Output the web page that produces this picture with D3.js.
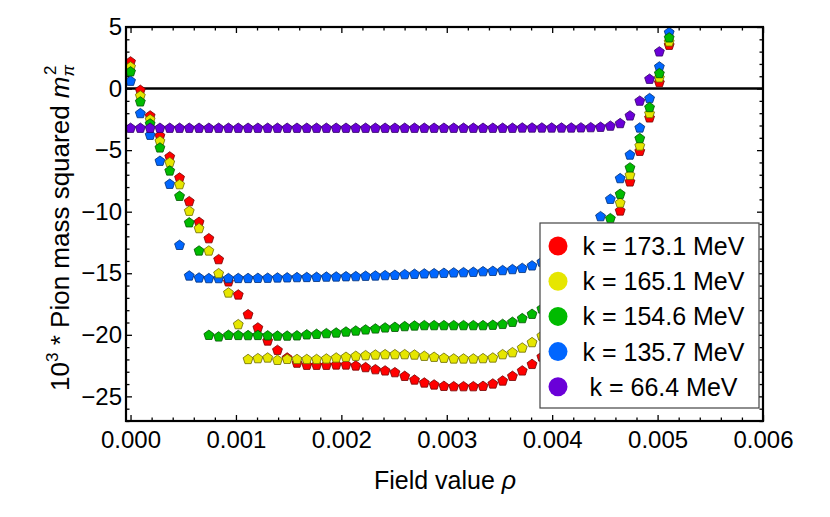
<!DOCTYPE html>
<html>
<head>
<meta charset="utf-8">
<style>
  body { margin: 0; background: #fff; }
  svg { display: block; font-family: "Liberation Sans", Arial, sans-serif; }
</style>
</head>
<body>
<svg width="830" height="517"></svg>
<script src="https://d3js.org/d3.v7.min.js"></script>
<script>

// field values rho (grid shared by all series)
var rho = [0, 0.000093, 0.000186, 0.000279, 0.000372, 0.000465, 0.000557, 0.00065, 0.000743, 0.000836,
  0.000929, 0.001022, 0.001115, 0.001208, 0.001301, 0.001394, 0.001486, 0.001579, 0.001672, 0.001765,
  0.001858, 0.001951, 0.002044, 0.002137, 0.00223, 0.002323, 0.002415, 0.002508, 0.002601, 0.002694,
  0.002787, 0.00288, 0.002973, 0.003066, 0.003159, 0.003252, 0.003344, 0.003437, 0.00353, 0.003623,
  0.003716, 0.003809, 0.003902, 0.003995, 0.004088, 0.004181, 0.004273, 0.004366, 0.004459, 0.004552,
  0.004645, 0.004738, 0.004831, 0.004924, 0.005017, 0.00511];

var k173 = [2.17, -0.14, -2.22, -3.85, -5.55, -7.26, -9.18, -10.86, -12.19, -13.89,
  -15.7, -16.76, -18.36, -19.44, -20.5, -21.26, -21.88, -22.3, -22.47, -22.47,
  -22.47, -22.45, -22.45, -22.53, -22.66, -22.83, -22.93, -23.07, -23.37, -23.67,
  -23.91, -24.07, -24.18, -24.21, -24.21, -24.21, -24.18, -23.99, -23.75, -23.37,
  -22.93, -22.4, -21.8, -21.0, -20.0, -18.8, -17.4, -15.8, -14.0, -12.0,
  -9.94, -7.58, -5.09, -2.38, 0.49, 3.52];

var k165 = [1.76, -0.6, -2.52, -4.28, -6.01, -7.8, -9.96, -11.37, -13.19, -15.03,
  -16.6, -19.17, -22.0, -21.93, -21.88, -22.07, -21.99, -22.0, -22.0, -22.0,
  -21.96, -21.88, -21.82, -21.74, -21.69, -21.64, -21.61, -21.61, -21.61, -21.64,
  -21.74, -21.82, -21.9, -21.96, -21.96, -21.96, -21.93, -21.88, -21.61, -21.45,
  -21.07, -20.63, -20.1, -19.4, -18.5, -17.4, -16.2, -14.8, -13.2, -11.4,
  -9.3, -7.04, -4.66, -2.03, 0.87, 3.79];

var k154 = [1.36, -1.08, -2.87, -4.82, -6.69, -8.75, -10.9, -13.19, -20.04, -20.17,
  -20.04, -20.05, -20.06, -20.05, -20.08, -20.1, -20.1, -20.08, -20.0, -19.96,
  -19.9, -19.85, -19.77, -19.69, -19.6, -19.52, -19.44, -19.39, -19.33, -19.28,
  -19.25, -19.25, -19.25, -19.25, -19.25, -19.25, -19.25, -19.22, -19.15, -18.98,
  -18.68, -18.33, -17.9, -17.3, -16.6, -15.7, -14.7, -13.5, -12.1, -10.56,
  -8.58, -6.44, -4.06, -1.54, 1.22, 4.12];

var k135 = [0.6, -2.03, -3.79, -5.9, -7.77, -12.73, -15.22, -15.38, -15.43, -15.43,
  -15.43, -15.42, -15.42, -15.41, -15.4, -15.38, -15.37, -15.35, -15.34, -15.33,
  -15.31, -15.3, -15.28, -15.27, -15.24, -15.22, -15.19, -15.16, -15.11, -15.08,
  -15.05, -15.03, -15.0, -14.97, -14.95, -14.92, -14.87, -14.84, -14.78, -14.7,
  -14.6, -14.4, -14.1, -13.7, -13.2, -12.6, -12.0, -11.4, -10.4, -8.99,
  -7.31, -5.4, -3.2, -0.81, 1.76, 4.55];

var k66 = [-3.22, -3.22, -3.22, -3.22, -3.22, -3.22, -3.22, -3.22, -3.22, -3.22,
  -3.22, -3.22, -3.22, -3.22, -3.22, -3.22, -3.22, -3.22, -3.22, -3.22,
  -3.22, -3.22, -3.22, -3.22, -3.22, -3.22, -3.22, -3.22, -3.22, -3.22,
  -3.22, -3.22, -3.22, -3.22, -3.22, -3.22, -3.22, -3.22, -3.22, -3.22,
  -3.2, -3.2, -3.2, -3.2, -3.2, -3.2, -3.19, -3.17, -3.14, -3.05,
  -2.84, -2.22, -1.02, 0.76, 2.98, 6.1];

var labels = ["k = 173.1 MeV", "k = 165.1 MeV", "k = 154.6 MeV", "k = 135.7 MeV", "k = 66.4 MeV"];
var colors = ["#ff0000", "#e6e600", "#00bb00", "#0066ff", "#6a00d8"];
var series = [k173, k165, k154, k135, k66];
// drawing order seen in the picture (later ones on top)
var drawOrder = [0, 3, 1, 2, 4];

var xTicks = [0, 0.001, 0.002, 0.003, 0.004, 0.005, 0.006];
var yTicks = [-25, -20, -15, -10, -5, 0, 5];

var svg = d3.select("svg"),
    margin = {top: 27, right: 67, bottom: 96, left: 126},
    width = +svg.attr("width") - margin.left - margin.right,
    height = +svg.attr("height") - margin.top - margin.bottom,
    g = svg.append("g").attr("transform", "translate(" + margin.left + "," + margin.top + ")");

var x = d3.scaleLinear().domain([-0.000043, 0.006]).range([0, width]);
var y = d3.scaleLinear().domain([-27, 5]).range([height, 0]);

var xMinor = d3.range(0, 0.00601, 0.0002).filter(function(v) { return Math.abs(v / 0.001 - Math.round(v / 0.001)) > 1e-6; });
var yMinor = d3.range(-27, 5.01, 1).filter(function(v) { return v % 5 !== 0; });

function tickAxis(axis, values, size, fmt) {
  return axis.tickValues(values).tickSizeInner(size).tickSizeOuter(0).tickFormat(fmt);
}

// bottom
g.append("g").attr("transform", "translate(0," + height + ")")
    .call(tickAxis(d3.axisBottom(x), xMinor, -3.5, ""));
g.append("g").attr("class", "lab").attr("transform", "translate(0," + height + ")")
    .call(tickAxis(d3.axisBottom(x), xTicks, -6, d3.format(".3f")).tickPadding(10));
// top
g.append("g").call(tickAxis(d3.axisTop(x), xMinor, -3.5, ""));
g.append("g").call(tickAxis(d3.axisTop(x), xTicks, -6, ""));
// left
g.append("g").call(tickAxis(d3.axisLeft(y), yMinor, -3.5, ""));
g.append("g").attr("class", "lab")
    .call(tickAxis(d3.axisLeft(y), yTicks, -6, d3.format("d")).tickPadding(4));
// right
g.append("g").attr("transform", "translate(" + width + ",0)").call(tickAxis(d3.axisRight(y), yMinor, -3.5, ""));
g.append("g").attr("transform", "translate(" + width + ",0)").call(tickAxis(d3.axisRight(y), yTicks, -6, ""));

g.selectAll(".domain").remove();
g.selectAll(".tick line").attr("stroke", "#000").attr("stroke-width", 1.3);
g.selectAll(".lab text").attr("font-size", 24).attr("fill", "#000")
    .style("font-family", "'Liberation Sans', Arial, sans-serif");

// zero line
g.append("line")
    .attr("x1", 0).attr("x2", width)
    .attr("y1", y(0)).attr("y2", y(0))
    .attr("stroke", "#000").attr("stroke-width", 2.6);

// pentagon marker
function pentagon(r) {
  var pts = d3.range(5).map(function(i) {
    var a = -Math.PI / 2 + i * 2 * Math.PI / 5;
    return [r * Math.cos(a), r * Math.sin(a)];
  });
  return "M" + pts.join("L") + "Z";
}

drawOrder.forEach(function(si) {
  var pts = rho.map(function(r, i) { return {x: r, y: series[si][i]}; })
      .filter(function(d) { return d.y <= 5 && d.y >= -27; });
  g.append("g").selectAll("path")
    .data(pts)
    .enter().append("path")
      .attr("transform", function(d) { return "translate(" + x(d.x) + "," + y(d.y) + ")"; })
      .attr("d", pentagon(5.2))
      .attr("fill", colors[si])
      .attr("stroke", d3.color(colors[si]).darker(2.2))
      .attr("stroke-width", 0.8);
});

// frame
g.append("rect")
    .attr("width", width).attr("height", height)
    .attr("fill", "none").attr("stroke", "#000").attr("stroke-width", 2.2);

// legend
var legend = svg.append("g").attr("transform", "translate(540,223)");
legend.append("rect")
    .attr("width", 219).attr("height", 185)
    .attr("fill", "#fff").attr("stroke", "#444").attr("stroke-width", 1.2);
var row = legend.selectAll(".row").data(labels).enter().append("g")
    .attr("transform", function(d, i) { return "translate(0," + (23 + i * 35.2) + ")"; });
row.append("circle").attr("cx", 18).attr("r", 9.5)
    .attr("fill", function(d, i) { return colors[i]; });
row.append("text").attr("x", 123.5).attr("dy", "0.36em")
    .attr("text-anchor", "middle").attr("font-size", 25)
    .text(function(d) { return d; });

// axis titles
svg.append("text")
    .attr("x", 445).attr("y", 489)
    .attr("text-anchor", "middle").attr("font-size", 25)
    .text("Field value ")
  .append("tspan").attr("font-style", "italic").text("ρ");

var yt = svg.append("text")
    .attr("transform", "translate(69,228) rotate(-90)")
    .attr("text-anchor", "middle").attr("font-size", 26);
yt.append("tspan").text("10");
yt.append("tspan").attr("font-size", 17).attr("dy", -11).text("3");
yt.append("tspan").attr("dy", 11).text(" * Pion mass squared ");
yt.append("tspan").attr("font-style", "italic").text("m");
yt.append("tspan").attr("font-style", "italic").attr("font-size", 17).attr("dy", 5).text("π");
yt.append("tspan").attr("font-size", 17).attr("dx", -10).attr("dy", -18).text("2");

</script>
</body>
</html>
